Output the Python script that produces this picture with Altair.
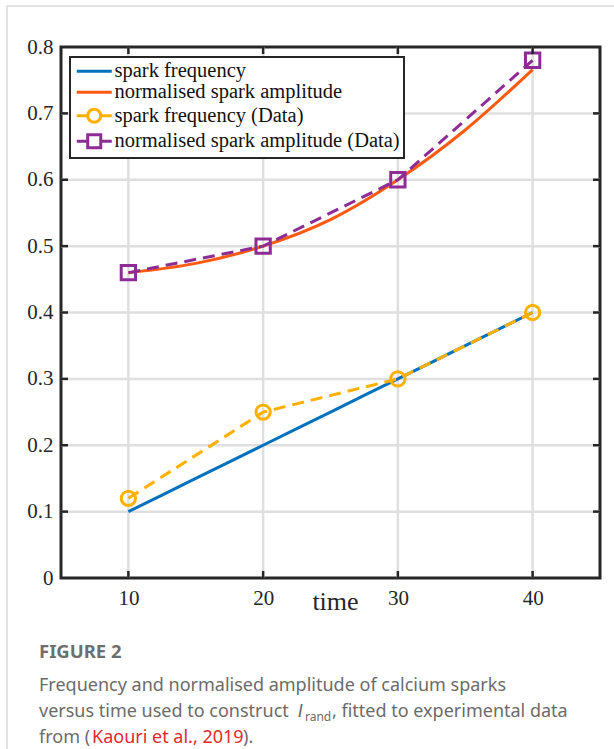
import altair as alt
import pandas as pd

# ---- values -------------------------------------------------------------
# fitted curves
fit_t = [10, 15, 20, 25, 30, 35, 40]
freq_fit = [0.10, 0.15, 0.20, 0.25, 0.30, 0.35, 0.40]
amp_fit = [0.460, 0.474, 0.500, 0.540, 0.600, 0.675, 0.766]

# experimental data points
data_t = [10, 20, 30, 40]
freq_data = [0.12, 0.25, 0.30, 0.40]
amp_data = [0.46, 0.50, 0.60, 0.78]

series = [
    "spark frequency",
    "normalised spark amplitude",
    "spark frequency (Data)",
    "normalised spark amplitude (Data)",
]
colors = ["#0072BD", "#FF5A10", "#FFB000", "#8E2C96"]

x_ticks = [10, 20, 30, 40]
y_ticks = [0, 0.1, 0.2, 0.3, 0.4, 0.5, 0.6, 0.7, 0.8]

SERIF = "Liberation Serif"
SANS = "Noto Sans"
INK = "#262626"
GRID = "#dfdfdf"

xs = alt.Scale(domain=[5, 45], nice=False, zero=False)
ys = alt.Scale(domain=[0, 0.8], nice=False, zero=False)

x_axis = alt.Axis(
    values=x_ticks, title="time", grid=False, domain=False, ticks=False,
    labelFont=SERIF, labelFontSize=21, labelColor=INK, labelPadding=9,
    titleFont=SERIF, titleFontSize=26, titleFontWeight="normal", titleColor=INK,
    titleY=31, titleBaseline="alphabetic", titleX=274,
)
y_axis = alt.Axis(
    values=y_ticks, title=None, grid=False, domain=False, ticks=False,
    format=".1f", labelExpr="datum.label == '0.0' ? '0' : datum.label",
    labelFont=SERIF, labelFontSize=21, labelColor=INK, labelPadding=8,
)

# grid lines at the tick positions
gx = pd.DataFrame({"t": x_ticks})
gy = pd.DataFrame({"v": y_ticks[1:-1]})
grid_x = alt.Chart(gx).mark_rule(color=GRID, strokeWidth=2.5).encode(
    x=alt.X("t:Q", scale=xs, axis=x_axis)
)
grid_y = alt.Chart(gy).mark_rule(color=GRID, strokeWidth=2.5).encode(
    y=alt.Y("v:Q", scale=ys, axis=y_axis)
)


def fit_line(values, color):
    df = pd.DataFrame({"t": fit_t, "v": values})
    return alt.Chart(df).mark_line(
        strokeWidth=3, interpolate="monotone", color=color
    ).encode(x="t:Q", y="v:Q")


def data_line(values, color):
    df = pd.DataFrame({"t": data_t, "v": values})
    return alt.Chart(df).mark_line(
        strokeWidth=3, strokeDash=[12, 7], color=color
    ).encode(x="t:Q", y="v:Q")


def data_marker(values, color, shape):
    df = pd.DataFrame({"t": data_t, "v": values})
    return alt.Chart(df).mark_point(
        shape=shape, filled=False, size=205, strokeWidth=3, opacity=1, color=color
    ).encode(x="t:Q", y="v:Q")


curves = [
    fit_line(freq_fit, colors[0]),
    fit_line(amp_fit, colors[1]),
    data_line(freq_data, colors[2]),
    data_line(amp_data, colors[3]),
    data_marker(freq_data, colors[2], "circle"),
    data_marker(amp_data, colors[3], "square"),
]

# legend glyphs: line, line+circle, line+square
line_sym = "M-1,0H3.67"
circ_sym = "M-1,0H0.46M2.2,0H3.67M0.46,0A0.87,0.87 0 1,1 2.2,0A0.87,0.87 0 1,1 0.46,0"
sq_sym = "M-1,0H0.46M2.2,0H3.67M0.46,-0.87H2.2V0.87H0.46Z"

leg = alt.Legend(
    title=None, orient="none", legendX=9, legendY=10,
    labelFont=SERIF, labelFontSize=20.5, labelColor="#111111", labelOffset=20,
    symbolSize=225, symbolStrokeWidth=3, symbolOpacity=1,
    padding=4, rowPadding=-0.5, strokeColor=INK, fillColor="white",
    cornerRadius=0, labelLimit=600,
)
legend_df = pd.DataFrame({"t": [0] * 4, "v": [0.5] * 4, "series": series})
legend_layer = alt.Chart(legend_df).mark_point(
    filled=False, size=225, strokeWidth=3, opacity=1, clip=True
).encode(
    x="t:Q", y="v:Q",
    color=alt.Color("series:N", scale=alt.Scale(domain=series, range=colors),
                    sort=series, legend=leg),
    shape=alt.Shape("series:N", sort=series,
                    scale=alt.Scale(domain=series, range=[line_sym, line_sym, circ_sym, sq_sym]),
                    legend=leg),
)

# inward tick marks on all four sides of the box
tick_len_y = 0.0106
tick_len_x = 0.52
ticks_bottom = alt.Chart(gx).transform_calculate(v="0", v2=str(tick_len_y)).mark_rule(
    color=INK, strokeWidth=2.5).encode(x="t:Q", y="v:Q", y2="v2:Q")
ticks_top = alt.Chart(gx).transform_calculate(v=str(0.8 - tick_len_y), v2="0.8").mark_rule(
    color=INK, strokeWidth=2.5).encode(x="t:Q", y="v:Q", y2="v2:Q")
ticks_left = alt.Chart(gy).transform_calculate(t="5", t2=str(5 + tick_len_x)).mark_rule(
    color=INK, strokeWidth=2.5).encode(y="v:Q", x="t:Q", x2="t2:Q")
ticks_right = alt.Chart(gy).transform_calculate(t=str(45 - tick_len_x), t2="45").mark_rule(
    color=INK, strokeWidth=2.5).encode(y="v:Q", x="t:Q", x2="t2:Q")

# page frame and caption
one = alt.Data(values=[{"k": 1}])
frame_top = alt.Chart(one).mark_rule(color="#d8d8d8", strokeWidth=1.5).encode(
    x=alt.value(-54), x2=alt.value(560), y=alt.value(-41))
frame_left = alt.Chart(one).mark_rule(color="#d8d8d8", strokeWidth=1.5).encode(
    x=alt.value(-54), y=alt.value(-41), y2=alt.value(710))

CAP = "#6b6b6b"


def cap(text, x, y, size=18, color=CAP, weight="normal", style="normal", font=SANS):
    return alt.Chart(one).mark_text(
        text=text, align="left", baseline="alphabetic", font=font, fontSize=size,
        color=color, fontWeight=weight, fontStyle=style,
    ).encode(x=alt.value(x), y=alt.value(y))


caption = [
    cap("FIGURE 2", -22, 611, size=18.5, weight="bold", color="#6e6e6e"),
    cap("Frequency and normalised amplitude of calcium sparks", -22, 644),
    cap("versus time used to construct", -22, 670),
    cap("I", 237, 670, style="italic", font="DejaVu Sans", size=17),
    cap("rand", 244, 674, size=12),
    cap(", fitted to experimental data", 271, 670),
    cap("from (", -22, 696),
    cap("Kaouri et al., 2019", 31, 696, color="#e2282e"),
    cap(").", 182, 696),
]

chart = alt.layer(
    grid_x, grid_y, *curves, legend_layer,
    ticks_bottom, ticks_top, ticks_left, ticks_right,
    frame_top, frame_left, *caption,
).properties(
    width=539, height=531,
    autosize=alt.AutoSizeParams(type="none"),
    padding={"left": 61, "top": 47, "right": 14, "bottom": 171},
    background="white",
).configure_view(
    stroke=INK, strokeWidth=3
).configure_legend(
    strokeWidth=2
)

chart.save("out.html", embed_options={"renderer": "svg", "actions": False})
